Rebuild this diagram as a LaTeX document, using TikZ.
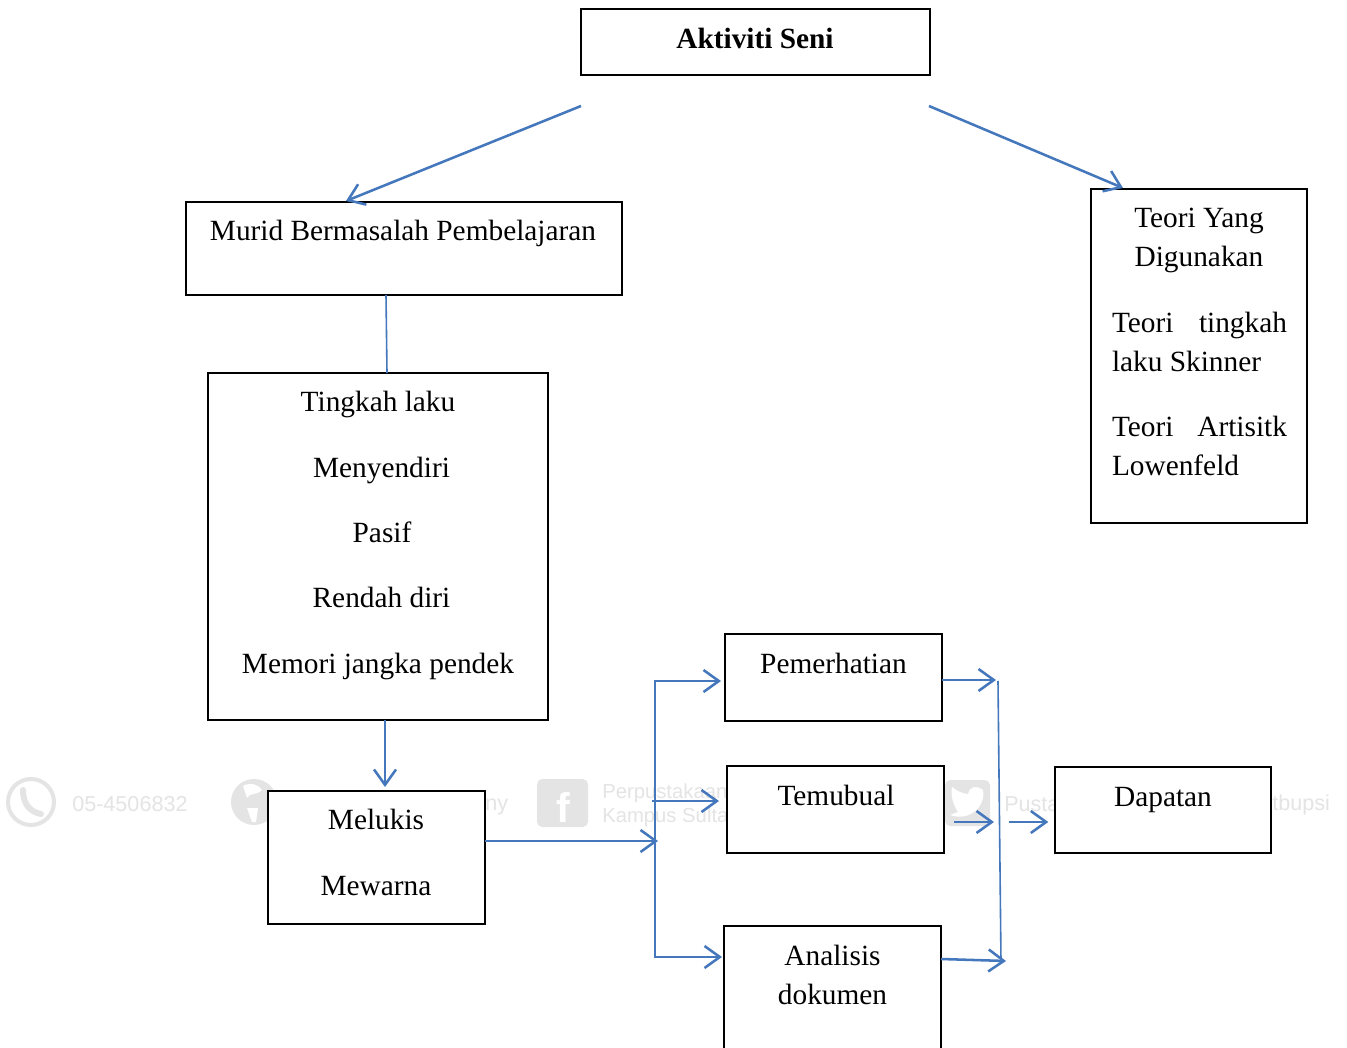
\documentclass[tikz,border=0pt]{standalone}
\usepackage{fontspec}
\setmainfont{Liberation Serif}
\setsansfont{Liberation Sans}
\usetikzlibrary{arrows.meta,calc}
\definecolor{lineblue}{HTML}{4577BC}
\definecolor{wm}{HTML}{E4E4E4}
\tikzset{
  box/.style={draw=black,line width=1.4pt,fill=white,rectangle,inner sep=0pt,outer sep=0pt},
  lbl/.style={anchor=base,inner sep=0pt,outer sep=0pt,font=\fontsize{22pt}{24pt}\selectfont},
  lbll/.style={lbl,anchor=base west},
  arr/.style={draw=lineblue,line width=1.9pt,-{Straight Barb[length=11.5pt,width=16.5pt,line width=1.9pt]}},
  conn/.style={draw=lineblue,line width=1.2pt},
  wmtext/.style={anchor=base west,inner sep=0pt,text=wm,font=\sffamily\fontsize{16.2pt}{18pt}\selectfont},
  wmsmall/.style={wmtext,font=\sffamily\fontsize{15.2pt}{18pt}\selectfont},
}
\begin{document}
\begin{tikzpicture}[x=0.75pt,y=-0.75pt]
\useasboundingbox (0,0) rectangle (1347,1048);
\clip (0,0) rectangle (1347,1048);
\fill[white] (0,0) rectangle (1347,1048);
% watermark
\draw[wm,line width=3pt] (31,802) circle (23);
\draw[wm,line width=4.5pt,line cap=round] (23,790) .. controls (23,804) and (30,812) .. (41,814);
\node[wmtext] (w1) at (72,811) {05-4506832};
\fill[wm] (254,802) circle (23);
\fill[white] (243,786) .. controls (250,782) and (258,784) .. (262,790) .. controls (256,796) and (250,792) .. (247,798) -- cycle;
\fill[white] (247,808) -- (258,808) -- (256,822) -- (252,822) -- cycle;
\node[wmtext] (w2) at (485,810) {ny};
\fill[wm,rounded corners=4pt] (537,779) rectangle (588,827);
\node[anchor=base,inner sep=0pt,text=white,font=\sffamily\bfseries\fontsize{31pt}{31pt}\selectfont] (w3) at (563,822) {f};
\node[wmsmall] (w4) at (602,798) {Perpustakaan};
\node[wmsmall] (w5) at (602,822) {Kampus Sultan};
\fill[wm,rounded corners=4pt] (945,780) rectangle (990,826);
\fill[white] (950,815) .. controls (970,822) and (986,806) .. (983,790) .. controls (976,785) and (970,786) .. (968,794) .. controls (962,794) and (956,790) .. (952,787) .. controls (950,796) and (954,806) .. (958,812) -- cycle;
\node[wmtext] (w6) at (1004,811) {Pustaka};
\node[wmtext] (w7) at (1272,810) {tbupsi};
% boxes
\node[box,minimum width=261.75pt,minimum height=49.5pt] (aktiviti) at (755.5,42) {};
\node[box,minimum width=327pt,minimum height=69.75pt] (murid) at (404,248.5) {};
\node[box,minimum width=162pt,minimum height=250.5pt] (teori) at (1199,356) {};
\node[box,minimum width=255pt,minimum height=260.25pt] (tingkah) at (378,546.5) {};
\node[box,minimum width=162.75pt,minimum height=99.75pt] (melukis) at (376.5,857.5) {};
\node[box,minimum width=162.75pt,minimum height=65.25pt] (pem) at (833.5,677.5) {};
\node[box,minimum width=162.75pt,minimum height=65.25pt] (tem) at (835.5,809.5) {};
\node[box,minimum width=162.75pt,minimum height=106.5pt] (ana) at (832.5,997) {};
\node[box,minimum width=162pt,minimum height=64.5pt] (dap) at (1163,810) {};
% labels
\node[lbl] (t1) at (755,49) {\textbf{Aktiviti Seni}};
\node[lbl] (t2) at (403,241) {Murid Bermasalah Pembelajaran};
\node[lbl] (t3) at (1199,228) {Teori Yang};
\node[lbl] (t4) at (1199,267) {Digunakan};
\node[lbll] (t5) at (1112,333) {\makebox[131.25pt][s]{Teori\hfill tingkah}};
\node[lbll] (t6) at (1112,372) {laku Skinner};
\node[lbll] (t7) at (1112,437) {\makebox[131.25pt][s]{Teori\hfill Artisitk}};
\node[lbll] (t8) at (1112,476) {Lowenfeld};
\node[lbl] (t9) at (378,412) {Tingkah laku};
\node[lbl] (t10) at (381.5,478) {Menyendiri};
\node[lbl] (t11) at (382,543) {Pasif};
\node[lbl] (t12) at (381.5,608) {Rendah diri};
\node[lbl] (t13) at (378,673) {Memori jangka pendek};
\node[lbl] (t14) at (376,829) {Melukis};
\node[lbl] (t15) at (376,895) {Mewarna};
\node[lbl] (t16) at (833.5,673) {Pemerhatian};
\node[lbl] (t17) at (836,805) {Temubual};
\node[lbl] (t18) at (1163,806) {Dapatan};
\node[lbl] (t19) at (832.5,965) {Analisis};
\node[lbl] (t20) at (832.5,1004) {dokumen};
% free connector ends
\coordinate (aL) at (581,106);
\coordinate (aR) at (929,106);
\coordinate (mTop) at (346,201);
\coordinate (tTop) at (1123,188);
\coordinate (mOut) at (386,295);
\coordinate (tIn) at (387,373);
\coordinate (tOut) at (385,720);
\coordinate (lOut) at (658,841);
\coordinate (bTop) at (655,681);
\coordinate (bMid) at (652,801);
\coordinate (bBot) at (655,957);
\coordinate (cTop) at (998,681);
\coordinate (cBot) at (1001,961);
\coordinate (pEnd) at (996,680);
\coordinate (tS) at (954,822);
\coordinate (tE) at (994,822);
\coordinate (dS) at (1009,822);
\coordinate (aS) at (941,959);
\coordinate (aE) at (1006,961);
% connectors
\draw[arr] (aL) -- (mTop);
\draw[arr] (aR) -- (tTop);
\draw[conn] (mOut) -- (tIn);
\draw[arr,shorten >=3pt] (tOut) -- (tOut |- melukis.north);
\draw[arr] (melukis.east |- lOut) -- (lOut);
\draw[conn,line cap=rect] (bTop) -- (bBot);
\draw[arr,shorten >=3pt] (bTop) -- (pem.west |- bTop);
\draw[arr,shorten >=6pt] (bMid) -- (tem.west |- bMid);
\draw[arr,shorten >=1.5pt] (bBot) -- (ana.west |- bBot);
\draw[arr] (pem.east |- pEnd) -- (pEnd);
\draw[arr] (tS) -- (tE);
\draw[arr,shorten >=5pt] (dS) -- (dap.west |- dS);
\draw[arr] (aS) -- (aE);
\draw[conn] (cTop) -- (cBot);
\end{tikzpicture}
\end{document}
